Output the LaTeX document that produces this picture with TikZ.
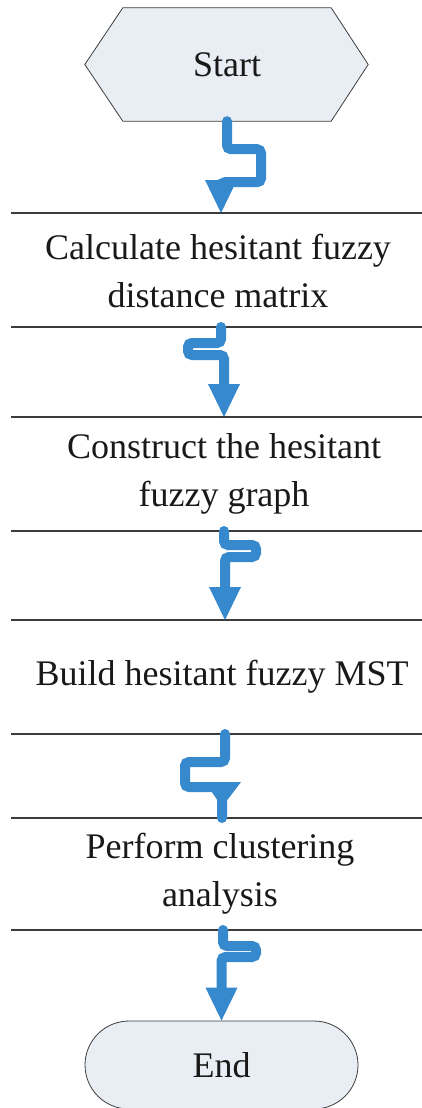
\documentclass[tikz,border=0pt]{standalone}
\usepackage{fontspec}
\setmainfont{Liberation Serif}
\usetikzlibrary{backgrounds}

\definecolor{flowblue}{RGB}{54,137,204}
\definecolor{boxfill}{RGB}{232,238,243}
\definecolor{rulegray}{RGB}{60,60,60}

\tikzset{
	flow/.style={draw=flowblue, line width=10pt, line cap=round, rounded corners=4pt},
	steptext/.style={align=center, font=\fontsize{36}{48}\selectfont, text=black!90},
	sepline/.style={draw=rulegray, line width=1.2pt},
}

\newcommand{\flowtip}[1]{\fill[flowblue] (#1) -- ++(-16,-33) -- ++(32,0) -- cycle;}

\begin{document}
\begin{tikzpicture}[x=1pt,y=-1pt]
	\useasboundingbox (0,0) rectangle (422,1108);

		% lines between the steps
		\foreach \y in {213,327,417,531,620,734,818,930}
			\draw[sepline] (11,\y) -- (422,\y);

		\coordinate (l1) at (221,213);
		\coordinate (l2) at (221,327);
		\coordinate (l3) at (224,417);
		\coordinate (l4) at (224,531);
		\coordinate (l5) at (225,620);
		\coordinate (l6) at (225,734);
		\coordinate (l7) at (222,818);
		\coordinate (l8) at (223,930);

		\node[steptext, minimum width=208pt, minimum height=113pt, inner sep=0pt] (start) at (227,64.5) {Start};
		\begin{scope}[on background layer]
			\draw[draw=rulegray, fill=boxfill, line width=0.8pt] (start.north west) -- (start.north east) -- ([xshift=37pt]start.east) -- (start.south east) -- (start.south west) -- ([xshift=-38pt]start.west) -- cycle;
		\end{scope}

		\node[steptext] (calc) at (218,271) {Calculate hesitant fuzzy\\distance matrix};
		\node[steptext] (graph) at (224,474) {Construct the hesitant\\fuzzy graph};
		\node[steptext] (mst) at (222,677) {Build hesitant fuzzy MST};
		\node[steptext] (clust) at (220,874) {Perform clustering\\analysis};

		\node[steptext, draw=rulegray, fill=boxfill, line width=0.8pt, rounded corners=44pt, minimum width=273pt, minimum height=88pt] (end) at (221.5,1065) {End};

		% arrows
		\draw[flow] (start.south) -- ++(0,28) -- ++(34,0) -- ++(0,33) -| ([yshift=15pt]l1);
		\flowtip{l1}
		\draw[flow] (l2) -- ++(0,16) -- ++(-33,0) -- ++(0,12) -| ([yshift=15pt]l3);
		\flowtip{l3}
		\draw[flow] (l4) -- ++(0,14) -- ++(32,0) -- ++(0,12) -| ([yshift=15pt]l5);
		\flowtip{l5}
		\draw[flow] (l6) -- ++(0,28) -- ++(-40,0) -- ++(0,25) -| (l7);
		\fill[flowblue] (l7) ++(-17,-36) -- ++(36,0) -- ++(-19,25) -- cycle; %Punta
		\draw[flow] (l8) -- ++(0,16) -- ++(33,0) -- ++(0,11) -| ([yshift=15pt]end.north);
		\flowtip{end.north}

\end{tikzpicture}
\end{document}
